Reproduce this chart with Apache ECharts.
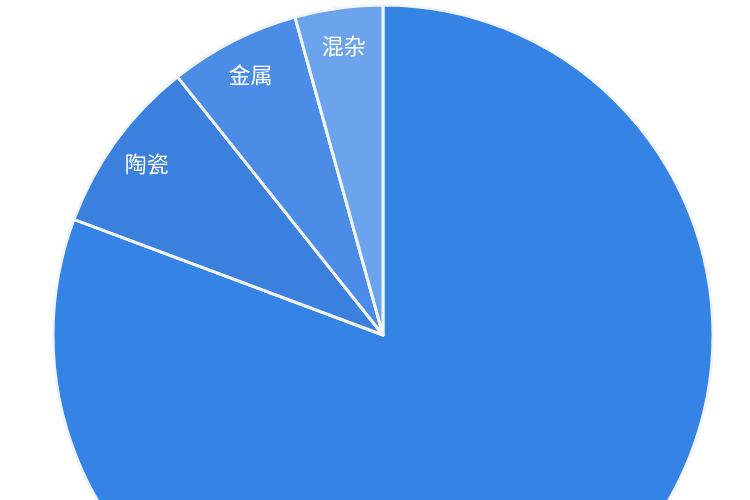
<!DOCTYPE html>
<html>
<head>
<meta charset="utf-8">
<script src="https://cdn.jsdelivr.net/npm/echarts@6/dist/echarts.min.js"></script>
<style>html,body{margin:0;padding:0;background:#fff;}#c{width:750px;height:500px;}</style>
</head>
<body>
<div id="c"></div>
<script>
const categories = ['其他', '陶瓷', '金属', '混杂'];
const values = [80.7, 8.6, 6.4, 4.3];
const colors = ['#3583e4', '#3b80dd', '#4a8ce6', '#6ba3ec'];

const chart = echarts.init(document.getElementById('c'));
const mainData = categories.map((n, i) => ({ name: n, value: values[i], itemStyle: { color: colors[i] } }));
const labelData = categories.map((n, i) => ({ name: n, value: values[i], label: { show: i !== 0 } }));

chart.setOption({
  animation: false,
  series: [
    {
      type: 'pie',
      center: [383, 335],
      radius: [0, 330],
      startAngle: 90,
      clockwise: true,
      silent: true,
      label: { show: false },
      labelLine: { show: false },
      itemStyle: { borderColor: '#f2f6fc', borderWidth: 3 },
      data: mainData
    },
    {
      type: 'pie',
      center: [383, 335],
      radius: [248, 330],
      startAngle: 90,
      clockwise: true,
      silent: true,
      itemStyle: { color: 'rgba(0,0,0,0)', borderWidth: 0 },
      label: {
        position: 'inside',
        color: '#ffffff',
        fontSize: 22,
        fontFamily: 'Noto Sans CJK SC'
      },
      labelLine: { show: false },
      data: labelData
    }
  ]
});
</script>
</body>
</html>
